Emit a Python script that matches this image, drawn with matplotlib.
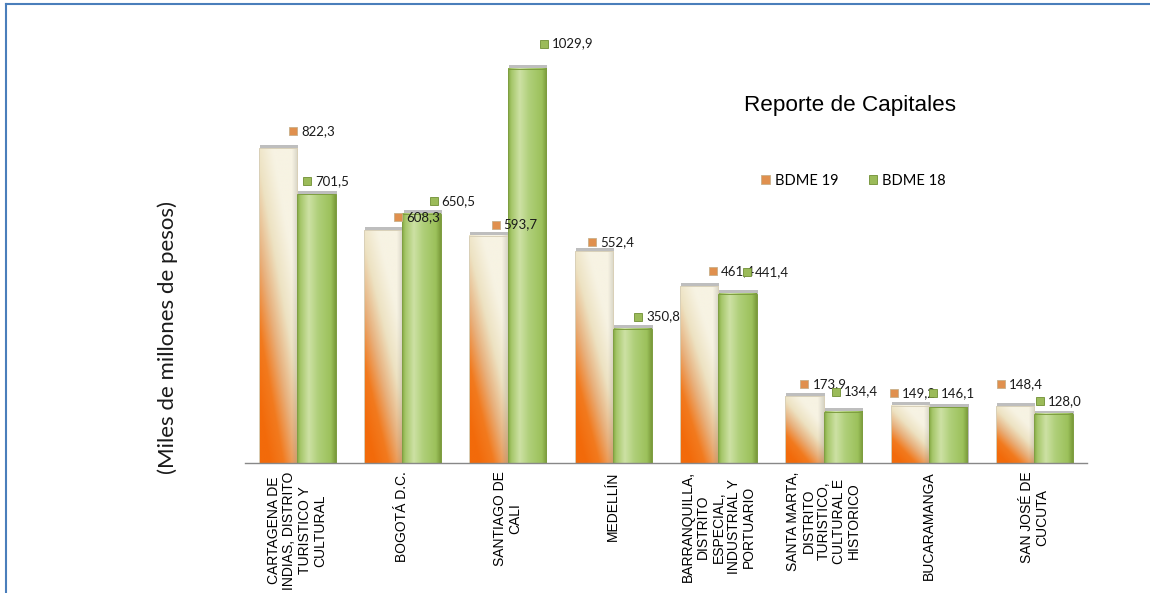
import numpy as np
import matplotlib
matplotlib.use("Agg")
import matplotlib.pyplot as plt
from matplotlib.patches import Patch, Rectangle
from matplotlib.lines import Line2D
from matplotlib.colors import LinearSegmentedColormap
import matplotlib.transforms as mtrans

# ----------------------------
# DATA
# ----------------------------
capitales = [
    "CARTAGENA DE\nINDIAS, DISTRITO\nTURISTICO Y\nCULTURAL",
    "BOGOTÁ D.C.",
    "SANTIAGO DE\nCALI",
    "MEDELLÍN",
    "BARRANQUILLA,\nDISTRITO\nESPECIAL,\nINDUSTRIAL Y\nPORTUARIO",
    "SANTA MARTA,\nDISTRITO\nTURISTICO,\nCULTURAL E\nHISTORICO",
    "BUCARAMANGA",
    "SAN JOSÉ DE\nCUCUTA",
]
bdme19 = [822.3, 608.3, 593.7, 552.4, 461.4, 173.9, 149.2, 148.4]
bdme18 = [701.5, 650.5, 1029.9, 350.8, 441.4, 134.4, 146.1, 128.0]

# label offsets (pixels) of the small square key relative to the bar centre / top
dx19 = [15, 15, 7, -2, 14, 0, -16, -14]
dy19 = [17, 13, 11, 9, 15, 12, 13, 22]
dx18 = [-9, 12, 17, 6, 9, -7, -15, -14]
dy18 = [13, 13, 25, 12, 22, 20, 14, 13]

W, H = 1150, 593
fig = plt.figure(figsize=(W / 100, H / 100), dpi=100)
ax = fig.add_axes([244.5 / W, 1 - 463 / H, 842.5 / W, 0.7105])

bw = 0.365
ymax = 1100

# ----------------------------
# gradients
# ----------------------------
orange_cmap = LinearSegmentedColormap.from_list(
    "or", ["#F7F3E3", "#EDE2C2", "#E8B07C", "#F27A1E", "#F26A0A"])
green_cmap = LinearSegmentedColormap.from_list(
    "gr", [(0.0, "#86AA45"), (0.08, "#A6C76A"), (0.3, "#CDE1A4"),
           (0.55, "#AFCF79"), (0.88, "#9CC15B"), (1.0, "#7C9D3C")])

U, V = np.meshgrid(np.linspace(0, 1, 40), np.linspace(0, 1, 120))


def orange_img():
    s = (1 - U) * 0.55 + (1 - V) * 0.8
    t = np.clip((s - 0.35) / 0.85, 0, 1) ** 1.1
    rgb = orange_cmap(t)[..., :3]
    shade = 1 - 0.12 * np.clip((U - 0.85) / 0.15, 0, 1)
    return rgb * shade[..., None]


def green_img():
    return green_cmap(U)[..., :3]


def draw_bar(x0, h, img, edge):
    # soft shadow behind the bar (top and right side)
    ax.add_patch(Rectangle((x0 + 0.01, 0), bw, h + 9, facecolor="#8A8A8A",
                           alpha=0.55, edgecolor="none", zorder=1.5))
    ax.imshow(img, extent=(x0, x0 + bw, 0, h), origin="lower", aspect="auto",
              interpolation="bilinear", zorder=2)
    ax.add_patch(Rectangle((x0, 0), bw, h, facecolor="none", edgecolor=edge,
                           lw=0.7, zorder=2.5))


for i in range(len(capitales)):
    draw_bar(i - bw, bdme19[i], orange_img(), "#D9D0B8")
    draw_bar(i, bdme18[i], green_img(), "#7E9E40")

# ----------------------------
# value labels with little keys
# ----------------------------
def label(x, v, dx, dy, col, ecol):
    off = mtrans.offset_copy(ax.transData, fig=fig, x=dx * 0.72, y=dy * 0.72, units="points")
    ax.plot([x], [v], marker="s", ms=5.5, color=col, mec=ecol, mew=0.6,
            transform=off, zorder=5, clip_on=False)
    off2 = mtrans.offset_copy(ax.transData, fig=fig, x=(dx + 8) * 0.72, y=dy * 0.72, units="points")
    ax.text(x, v, f"{v:.1f}".replace(".", ","), transform=off2, ha="left",
            va="center", fontsize=9.5, family="Lato", color="#1A1A1A", zorder=5)


for i in range(len(capitales)):
    label(i - bw / 2, bdme19[i], dx19[i], dy19[i], "#E0904E", "#C8B08A")
    label(i + bw / 2, bdme18[i], dx18[i], dy18[i], "#9BBB59", "#6F8F33")

ax.set_xlim(-0.5, len(capitales) - 0.5)
ax.set_ylim(0, ymax)
ax.set_yticks([])
ax.set_xticks(range(len(capitales)))
ax.set_xticklabels(capitales, rotation=90, ha="center", va="top",
                   multialignment="center", fontsize=10, linespacing=1.12,
                   family="Liberation Sans")
ax.tick_params(axis="x", length=0, pad=6)
for sp in ["top", "right", "left"]:
    ax.spines[sp].set_visible(False)
ax.spines["bottom"].set_color("#888888")
ax.spines["bottom"].set_linewidth(1.0)
ax.spines["bottom"].set_zorder(3)
ax.patch.set_alpha(0)

# ----------------------------
# texts, legend, frame
# ----------------------------
fig.text(168 / W, 1 - 337 / H, "(Miles de millones de pesos)", rotation=90,
         ha="center", va="center", fontsize=16, family="Lato", color="#1A1A1A")
fig.text(850 / W, 1 - 105 / H, "Reporte de Capitales", ha="center", va="center",
         fontsize=16.2, family="Liberation Sans", color="#000000")

handles = [Patch(facecolor="#E0904E", edgecolor="#C8B08A", lw=0.6),
           Patch(facecolor="#9BBB59", edgecolor="#6F8F33", lw=0.6)]
fig.legend(handles, ["BDME 19", "BDME 18"], loc="center left",
           bbox_to_anchor=(754 / W, 1 - 181 / H), ncol=2, frameon=False,
           prop={"family": "Lato", "size": 10.5}, handlelength=0.6, handleheight=0.6,
           handletextpad=0.35, columnspacing=2.05, borderpad=0.0)

fig.add_artist(Line2D([6 / W, 1], [1 - 4 / H, 1 - 4 / H], transform=fig.transFigure,
                      color="#4A7EBB", lw=1.5))
fig.add_artist(Line2D([6 / W, 6 / W], [0, 1 - 4 / H], transform=fig.transFigure,
                      color="#4A7EBB", lw=1.5))

fig.savefig("out.png", dpi=100)
